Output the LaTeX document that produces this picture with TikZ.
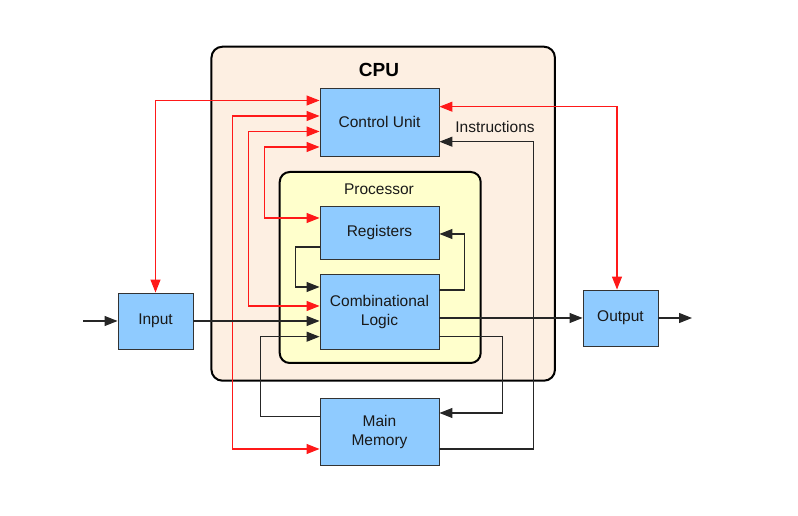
\documentclass[tikz,border=0pt]{standalone}
\usepackage{fontspec}
\setmainfont{Liberation Sans}
\usetikzlibrary{arrows.meta}
\definecolor{unitblue}{RGB}{143,203,255}
\definecolor{cpupeach}{RGB}{253,239,226}
\definecolor{procyellow}{RGB}{255,255,204}
\definecolor{busred}{RGB}{255,25,25}

\begin{document}
\begin{tikzpicture}[
    x=1pt,
    y=1pt,
    font=\fontsize{15.5}{19}\selectfont,
    container/.style={draw=black,line width=2pt,rounded corners=11pt,inner sep=0pt},
    unit/.style={draw=black!80,fill=unitblue,line width=0.9pt,align=center,inner sep=0pt,text=black!90},
    title/.style={font=\fontsize{19}{22}\selectfont\bfseries,text=black},
    caption/.style={text=black!90},
    dataflow/.style={-{Triangle[length=13pt,width=10pt]},draw=black!85,line width=1.1pt},
    ctrlflow/.style={{Triangle[length=13pt,width=10pt]}-{Triangle[length=13pt,width=10pt]},draw=busred,line width=1.1pt}
  ]
    \useasboundingbox (0,0) rectangle (798,516);

    % containers
    \node[container,fill=cpupeach,minimum width=343.5,minimum height=334] (cpu) at (383.2,302.3) {};
    \node[title] (cpulabel) at (379,446) {CPU};
    \node[container,fill=procyellow,minimum width=201,minimum height=191,rounded corners=10pt] (proc) at (380.2,248.5) {};
    \node[caption] (proclabel) at (379,327) {Processor};

    % units
    \node[unit,minimum width=119,minimum height=68] (control) at (379.5,394) {Control Unit};
    \node[unit,minimum width=119,minimum height=53] (regs) at (379.5,283.5) {Registers};
    \node[unit,minimum width=119,minimum height=75] (comb) at (379.5,204.5) {Combinational\\Logic};
    \node[unit,minimum width=119,minimum height=67] (memory) at (379.5,84.5) {Main\\Memory};
    \node[unit,minimum width=75,minimum height=56] (input) at (155.5,195) {Input};
    \node[unit,minimum width=75,minimum height=56] (output) at (620.5,198) {Output};

    \coordinate (source) at (83,195);
    \coordinate (sink) at (692,198);

    % control lines
    \draw[ctrlflow] (input.north) |- (control.west |- 0,415.5);
    \draw[ctrlflow] (control.west |- 0,400) -- ++(-87,0) |- (memory.west |- 0,67);
    \draw[ctrlflow] (control.west |- 0,384.5) -- ++(-71,0) |- (comb.west |- 0,210);
    \draw[ctrlflow] (control.west |- 0,369) -- ++(-55,0) |- (regs.west |- 0,298);
    \draw[ctrlflow] (control.east |- 0,409.3) -| ([xshift=-3.5pt]output.north);

    % data lines
    \draw[dataflow] (source) -- (input.west);
    \draw[dataflow] (input.east) -- (comb.west |- input.east);
    \draw[dataflow] (comb.east |- output.west) -- (output.west);
    \draw[dataflow] (output.east) -- (sink);
    \draw[dataflow] (regs.west |- 0,269) -- ++(-24,0) |- (comb.west |- 0,229);
    \draw[dataflow] (comb.east |- 0,226) -- ++(25,0) |- (regs.east |- 0,282);
    \draw[dataflow] (comb.east |- 0,179.3) -- ++(63,0) |- (memory.east |- 0,103);
    \draw[dataflow] (memory.west |- 0,99.3) -- ++(-59,0) |- (comb.west |- 0,179.3);
    \draw[dataflow] (memory.east |- 0,67) -- ++(94,0) |- (control.east |- 0,374.3);
    \node[caption] (instr) at (495,389) {Instructions};
  \end{tikzpicture}
\end{document}
